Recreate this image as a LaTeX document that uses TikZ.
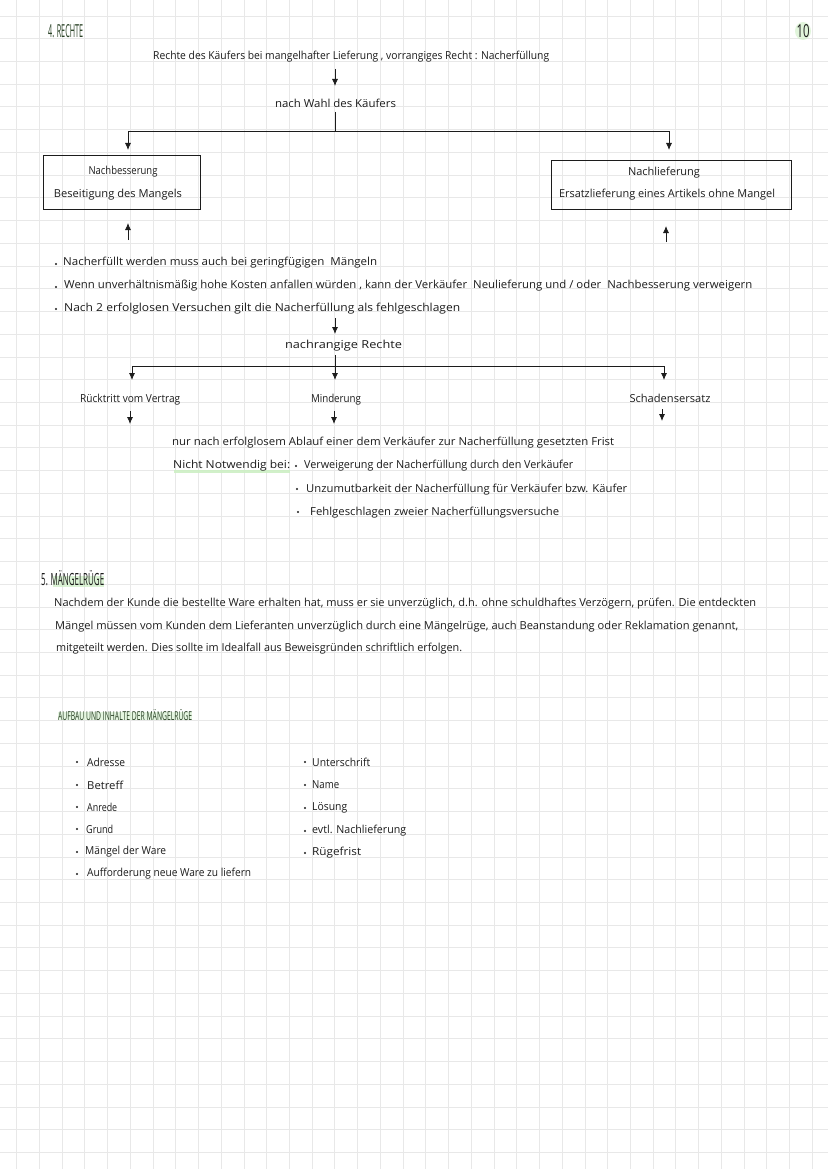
\documentclass[tikz,border=0pt]{standalone}
\usepackage{fontspec}
\setmainfont{Open Sans}
\usetikzlibrary{arrows.meta}
\newcommand{\fitw}[2]{\resizebox{#1pt}{\height}{#2}}
\newcommand{\fitwh}[3]{\resizebox{#1pt}{#2pt}{#3}}
\definecolor{gridc}{HTML}{E8E8E8}
\definecolor{ink}{HTML}{1C1C1C}
\definecolor{title}{HTML}{2A4226}
\definecolor{hl}{HTML}{CDEFC4}
\begin{document}
\begin{tikzpicture}[x=1pt,y=-1pt,
  txt/.style={inner sep=0pt, font=\fontsize{11}{13}\selectfont, text=ink},
  ttl/.style={inner sep=0pt, font=\fontsize{14}{16}\selectfont, text=title},
  bul/.style={fill=ink, draw=none, circle, inner sep=0pt, minimum size=2.4pt},
  arr/.style={draw=ink, line width=0.8pt, -{Latex[length=7pt,width=6pt]}},
  ln/.style={draw=ink, line width=0.8pt},
  box/.style={draw=ink, line width=0.8pt, inner sep=0pt}]
\useasboundingbox (0,0) rectangle (828,1169);
\fill[white] (0,0) rectangle (828,1169);
% grid
\foreach \k in {0,...,35} \draw[gridc, line width=0.9pt] ({16.7+22.73*\k},0) -- ({16.7+22.73*\k},1169);
\foreach \k in {0,...,50} \draw[gridc, line width=0.9pt] (0,{16+22.73*\k}) -- (828,{16+22.73*\k});

% titles
\node[ttl, anchor=west] (t4) at (48,31.5) {\fitwh{35}{13}{4. RECHTE}};
\fill[hl, opacity=0.6] (803,31) ellipse (8pt and 9pt);
\node[ttl, text=ink] (pg) at (803,31) {\fitwh{13}{13}{10}};

% top part
\node[txt, anchor=west] (top) at (153,57) {\fitw{396}{Rechte des Käufers bei mangelhafter Lieferung , vorrangiges Recht : Nacherfüllung}};
\coordinate (a1s) at (335,69);
\coordinate (a1e) at (335,86);
\draw[arr] (a1s) -- (a1e);
\node[txt] (wahl) at (335.5,103) {\fitw{121}{nach Wahl des Käufers}};
\coordinate (w1) at (335,112);
\coordinate (j1) at (335,131);
\coordinate (la) at (128,150);
\coordinate (ra) at (669,150);
\draw[ln] (w1) -- (j1);
\draw[arr] (j1) -| (la);
\draw[arr] (j1) -| (ra);

% boxes
\node[box, minimum width=157pt, minimum height=54pt] (nb) at (121.5,182) {};
\node[txt] (nbt) at (123,172) {\fitw{69}{Nachbesserung}};
\node[txt] (nbd) at (118,195) {\fitw{128}{Beseitigung des Mangels}};
\node[box, minimum width=240pt, minimum height=49pt] (nl) at (671,184.5) {};
\node[txt] (nlt) at (664,173) {\fitw{72}{Nachlieferung}};
\node[txt] (nld) at (667,195) {\fitw{216}{Ersatzlieferung eines Artikels ohne Mangel}};

\coordinate (u1s) at (128,240);
\coordinate (u1e) at (128,223);
\coordinate (u2s) at (666,242);
\coordinate (u2e) at (666,226);
\draw[arr] (u1s) -- (u1e);
\draw[arr] (u2s) -- (u2e);

% bullets
\node[bul] (d1) at (56,264) {};
\node[txt, anchor=west] (b1) at (63,263) {\fitw{314}{Nacherfüllt werden muss auch bei geringfügigen \ Mängeln}};
\node[bul] (d2) at (56,287) {};
\node[txt, anchor=west] (b2) at (64,286) {\fitw{688}{Wenn unverhältnismäßig hohe Kosten anfallen würden , kann der Verkäufer \ Neulieferung und / oder \ Nachbesserung verweigern}};
\node[bul] (d3) at (56,309) {};
\node[txt, anchor=west] (b3) at (64,309) {\fitw{396}{Nach 2 erfolglosen Versuchen gilt die Nacherfüllung als fehlgeschlagen}};

% second tree
\coordinate (a2s) at (335,318);
\coordinate (a2e) at (335,334);
\draw[arr] (a2s) -- (a2e);
\node[txt] (nr) at (343.5,346) {\fitw{117}{nachrangige Rechte}};
\coordinate (n1) at (335,355);
\coordinate (j2) at (335,366);
\coordinate (e1) at (132,380);
\coordinate (e2) at (335,380);
\coordinate (e3) at (664,380);
\draw[ln] (n1) -- (j2);
\draw[arr] (j2) -| (e1);
\draw[arr] (j2) -- (e2);
\draw[arr] (j2) -| (e3);

\node[txt, anchor=west] (rv) at (80,400) {\fitw{100}{Rücktritt vom Vertrag}};
\node[txt] (mi) at (336,400) {\fitw{50}{Minderung}};
\node[txt] (se) at (670,398) {\fitw{81}{Schadensersatz}};
\coordinate (f1s) at (130,411);
\coordinate (f1e) at (130,424);
\coordinate (f2s) at (334,411);
\coordinate (f2e) at (334,424);
\coordinate (f3s) at (662,409);
\coordinate (f3e) at (662,421);
\draw[arr] (f1s) -- (f1e);
\draw[arr] (f2s) -- (f2e);
\draw[arr] (f3s) -- (f3e);

\node[txt, anchor=west] (nn) at (172,443) {\fitw{442}{nur nach erfolglosem Ablauf einer dem Verkäufer zur Nacherfüllung gesetzten Frist}};
\draw[hl, line width=3pt, opacity=0.9] (174,471.5) -- (290,471.5);
\node[txt, anchor=west] (nw) at (173,466) {\fitw{117}{Nicht Notwendig bei:}};
\node[bul] (c1) at (296,466) {};
\node[txt, anchor=west] (v1) at (304,466) {\fitw{269}{Verweigerung der Nacherfüllung durch den Verkäufer}};
\node[bul] (c2) at (297,489) {};
\node[txt, anchor=west] (v2) at (306,490) {\fitw{321}{Unzumutbarkeit der Nacherfüllung für Verkäufer bzw. Käufer}};
\node[bul] (c3) at (298,512) {};
\node[txt, anchor=west] (v3) at (310,513) {\fitw{249}{Fehlgeschlagen zweier Nacherfüllungsversuche}};

% section 5
\fill[hl, opacity=0.7] (53,576) rectangle (104,587);
\node[ttl, anchor=west, text=ink] (t5) at (41,578) {\fitwh{63}{15}{5. MÄNGELRÜGE}};
\node[txt, anchor=west] (p1) at (54,604) {\fitw{702}{Nachdem der Kunde die bestellte Ware erhalten hat, muss er sie unverzüglich, d.h. ohne schuldhaftes Verzögern, prüfen. Die entdeckten}};
\node[txt, anchor=west] (p2) at (55,627) {\fitw{683}{Mängel müssen vom Kunden dem Lieferanten unverzüglich durch eine Mängelrüge, auch Beanstandung oder Reklamation genannt,}};
\node[txt, anchor=west] (p3) at (56,649) {\fitw{406}{mitgeteilt werden. Dies sollte im Idealfall aus Beweisgründen schriftlich erfolgen.}};

\fill[hl, opacity=0.5] (58,712) rectangle (192,720);
\node[ttl, anchor=west] (t6) at (58,715) {\fitwh{134}{11}{AUFBAU UND INHALTE DER MÄNGELRÜGE}};

% lists
\foreach \yy/\nm/\w/\xx [count=\i] in {762/Adresse/38/87, 785/Betreff/36/87, 807/Anrede/30/87, 829/Grund/27/86, 852/Mängel der Ware/81/85, 874/Aufforderung neue Ware zu liefern/164/87}{
  \node[bul] (ld\i) at (77,\yy) {};
  \node[txt, anchor=west] (li\i) at (\xx,\yy) {\fitw{\w}{\nm}};
}
\foreach \yy/\nm/\w [count=\i] in {762/Unterschrift/58, 785/Name/27, 808/Lösung/35, 831/evtl. Nachlieferung/94, 853/Rügefrist/49}{
  \node[bul] (rd\i) at (305,\yy) {};
  \node[txt, anchor=west] (ri\i) at (312,\yy) {\fitw{\w}{\nm}};
}
\end{tikzpicture}
\end{document}
